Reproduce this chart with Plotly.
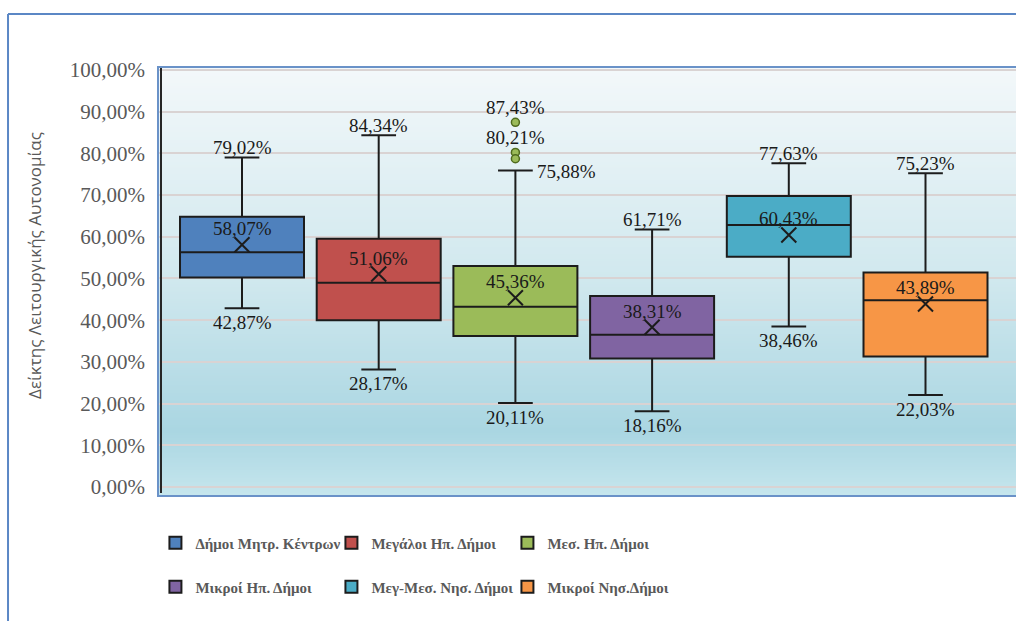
import base64
import struct
import zlib

import plotly.graph_objects as go

# ---- data -------------------------------------------------------------
groups = ["Δήμοι Μητρ. Κέντρων", "Μεγάλοι Ηπ. Δήμοι", "Μεσ. Ηπ. Δήμοι",
          "Μικροί Ηπ. Δήμοι", "Μεγ-Μεσ. Νησ. Δήμοι", "Μικροί Νησ.Δήμοι"]
whisker_low = [42.87, 28.17, 20.11, 18.16, 38.46, 22.03]
q1 = [50.2, 40.0, 36.2, 30.8, 55.2, 31.3]
median = [56.3, 49.0, 43.2, 36.5, 62.8, 44.8]
q3 = [64.8, 59.5, 53.0, 45.8, 69.8, 51.4]
whisker_high = [79.02, 84.34, 75.88, 61.71, 77.63, 75.23]
means = [58.07, 51.06, 45.36, 38.31, 60.43, 43.89]
outlier_group = [2, 2, 2]
outlier_values = [87.43, 80.21, 78.7]
outlier_labels = ["87,43%", "80,21%", ""]
y_ticks = [0, 10, 20, 30, 40, 50, 60, 70, 80, 90, 100]

# ---- styles -----------------------------------------------------------
colors = ["#4f81bd", "#c0504d", "#9bbb59", "#8064a2", "#4bacc6", "#f79646"]
SERIF = "Liberation Serif, Times New Roman, serif"
LINE = "#1c1c1c"


def pct(v):
    return f"{v:.2f}".replace(".", ",") + "%"


fig = go.Figure()

for i, name in enumerate(groups):
    fig.add_trace(go.Box(
        x=[i], q1=[q1[i]], median=[median[i]], q3=[q3[i]],
        lowerfence=[whisker_low[i]], upperfence=[whisker_high[i]],
        name=name, width=0.907, whiskerwidth=0.28,
        fillcolor=colors[i], line=dict(color=LINE, width=2),
        legend="legend" if i < 3 else "legend2",
        hoverinfo="skip",
    ))

# mean markers
fig.add_trace(go.Scatter(
    x=list(range(len(groups))), y=means, mode="markers",
    marker=dict(symbol="x-thin", size=15, line=dict(color=LINE, width=2)),
    showlegend=False, hoverinfo="skip",
))

# outliers
fig.add_trace(go.Scatter(
    x=outlier_group, y=outlier_values, mode="markers",
    marker=dict(symbol="circle", size=8, color=colors[2],
                line=dict(color="#4f6a1e", width=1.5)),
    showlegend=False, hoverinfo="skip",
))

# ---- value labels -------------------------------------------------------
lab_font = dict(family=SERIF, size=19, color="#1a1a1a")
ann = []
for i in range(len(groups)):
    if i == 2:
        ann.append(dict(x=i, y=whisker_high[i], text=pct(whisker_high[i]),
                        xanchor="left", yanchor="middle", xshift=20, yshift=-1))
    else:
        ann.append(dict(x=i, y=whisker_high[i], text=pct(whisker_high[i]),
                        xanchor="center", yanchor="middle", yshift=10))
    ann.append(dict(x=i, y=whisker_low[i], text=pct(whisker_low[i]),
                    xanchor="center", yanchor="middle", yshift=-14))
    ann.append(dict(x=i, y=means[i], text=pct(means[i]),
                    xanchor="center", yanchor="middle", yshift=16))
for g, v, t in zip(outlier_group, outlier_values, outlier_labels):
    if t:
        ann.append(dict(x=g, y=v, text=t, xanchor="center",
                        yanchor="middle", yshift=15))
for a in ann:
    a.update(xref="x", yref="y", showarrow=False, font=lab_font)

# y axis title
ann.append(dict(xref="paper", yref="paper", x=-0.1434, y=0.5385,
                text="Δείκτης Λειτουργικής Αυτονομίας", textangle=-90,
                showarrow=False, xanchor="center", yanchor="middle",
                font=dict(family="Open Sans", size=17, color="#595959")))

# ---- plot-area gradient (vertical, as a stretched 1-px wide PNG) ---------
stops = [(0.0, (243, 248, 250)), (0.5, (208, 232, 238)),
         (0.85, (170, 214, 226)), (1.0, (198, 230, 237))]


def grad(t):
    for (t0, c0), (t1, c1) in zip(stops[:-1], stops[1:]):
        if t <= t1:
            f = (t - t0) / (t1 - t0)
            return tuple(round(a + (b - a) * f) for a, b in zip(c0, c1))
    return stops[-1][1]


def gradient_png(h=256):
    raw = b"".join(b"\x00" + bytes(grad(k / (h - 1))) for k in range(h))

    def chunk(tag, data):
        c = struct.pack(">I", len(data)) + tag + data
        return c + struct.pack(">I", zlib.crc32(tag + data) & 0xFFFFFFFF)

    png = (b"\x89PNG\r\n\x1a\n"
           + chunk(b"IHDR", struct.pack(">IIBBBBB", 1, h, 8, 2, 0, 0, 0))
           + chunk(b"IDAT", zlib.compress(raw, 9))
           + chunk(b"IEND", b""))
    return "data:image/png;base64," + base64.b64encode(png).decode()


images = [dict(source=gradient_png(), xref="paper", yref="paper",
               x=0, y=1, sizex=1.01, sizey=1, xanchor="left", yanchor="top",
               sizing="stretch", layer="below")]

shapes = []
# plot-area border
shapes.append(dict(type="rect", xref="paper", yref="paper", x0=0, x1=1.01,
                   y0=0, y1=1, line=dict(color="#6a92c8", width=2), layer="above"))
# vertical value axis line
shapes.append(dict(type="line", xref="paper", yref="paper", x0=0.0035, x1=0.0035,
                   y0=0.007, y1=0.9977, line=dict(color="#262626", width=2)))
# outer chart frame
shapes.append(dict(type="line", xref="paper", yref="paper", x0=-0.1748, x1=1.02,
                   y0=1.1235, y1=1.1235, line=dict(color="#5b87c5", width=2)))
shapes.append(dict(type="line", xref="paper", yref="paper", x0=-0.1748, x1=-0.1748,
                   y0=1.1235, y1=-0.3, line=dict(color="#5b87c5", width=2)))

legend_style = dict(orientation="h", xanchor="left", yanchor="middle",
                    bgcolor="rgba(0,0,0,0)", entrywidth=131,
                    font=dict(family=SERIF, size=15, color="#595959",
                              weight="bold"),
                    itemclick=False, itemdoubleclick=False)

fig.update_layout(
    width=1016, height=621,
    margin=dict(l=158, r=0, t=67, b=125),
    paper_bgcolor="white", plot_bgcolor="rgba(0,0,0,0)",
    showlegend=True,
    legend=dict(x=-0.003, y=-0.1096, **legend_style),
    legend2=dict(x=-0.003, y=-0.212, **legend_style),
    xaxis=dict(range=[-0.6145, 5.662], showticklabels=False, showgrid=False,
               zeroline=False, showline=False, ticks=""),
    yaxis=dict(range=[-2.16, 100.7], tickvals=y_ticks,
               ticktext=[pct(v) for v in y_ticks],
               tickfont=dict(family=SERIF, size=21, color="#595959"),
               showgrid=True, gridcolor="#d9d3d3", gridwidth=2,
               zeroline=False, showline=False, ticks="",
               ticklabelstandoff=12),
    annotations=ann, shapes=shapes, images=images,
)

fig.write_html("out.html")
